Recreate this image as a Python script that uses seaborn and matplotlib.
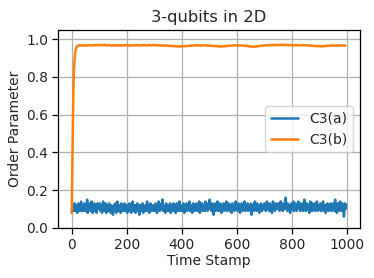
import numpy as np
import pandas as pd
import matplotlib
matplotlib.use("Agg")
import matplotlib.pyplot as plt
import seaborn as sns

title = "3-qubits in 2D"
x_label = "Time Stamp"
y_label = "Order Parameter"
series_names = ["C3(a)", "C3(b)"]
x_ticks = [0, 200, 400, 600, 800, 1000]
y_ticks = [0.0, 0.2, 0.4, 0.6, 0.8, 1.0]

# C3(a): sampled every 2 time stamps (0, 2, ..., 998)
time_a = list(range(0, 1000, 2))
c3a = [
    .08,.11,.09,.12,.10,.13,.09,.11,.10,.12,.08,.11,.13,.10,.09,.12,.10,.14,.09,.11,.12,.09,.10,.13,.11,
    .09,.12,.10,.15,.08,.11,.13,.10,.12,.09,.11,.14,.10,.08,.12,.11,.13,.09,.10,.12,.08,.11,.13,.10,.12,
    .10,.13,.09,.11,.12,.08,.10,.14,.11,.09,.12,.10,.13,.08,.11,.10,.12,.09,.13,.11,.10,.08,.12,.11,.09,
    .07,.11,.12,.09,.13,.10,.08,.11,.14,.10,.09,.12,.10,.11,.08,.13,.10,.12,.09,.11,.10,.13,.09,.11,.12,
    .10,.08,.12,.11,.09,.13,.10,.12,.08,.11,.10,.14,.09,.11,.12,.10,.08,.12,.11,.13,.09,.10,.12,.07,.11,
    .12,.09,.11,.10,.13,.08,.12,.10,.11,.09,.12,.10,.14,.09,.11,.12,.08,.10,.13,.11,.09,.12,.10,.11,.09,
    .12,.10,.13,.09,.11,.08,.12,.10,.14,.11,.09,.12,.10,.13,.11,.15,.09,.12,.10,.11,.08,.12,.13,.10,.11,
    .09,.12,.10,.11,.13,.08,.11,.10,.12,.09,.13,.10,.11,.12,.08,.10,.13,.11,.09,.12,.10,.14,.09,.11,.10,
    .12,.09,.11,.13,.10,.08,.12,.11,.10,.13,.09,.11,.12,.10,.14,.09,.11,.10,.12,.08,.11,.13,.10,.09,.12,
    .11,.10,.13,.09,.12,.10,.11,.14,.08,.12,.10,.11,.13,.09,.10,.12,.11,.09,.14,.10,.12,.11,.09,.13,.10,
    .12,.15,.10,.11,.09,.13,.10,.12,.07,.11,.13,.10,.09,.12,.11,.14,.10,.09,.12,.11,.13,.10,.08,.12,.11,
    .10,.13,.09,.11,.12,.10,.14,.09,.11,.10,.12,.13,.09,.11,.10,.12,.08,.13,.11,.10,.12,.09,.11,.14,.10,
    .11,.12,.09,.13,.10,.11,.08,.12,.10,.13,.11,.09,.12,.10,.14,.11,.09,.12,.10,.11,.13,.09,.10,.12,.11,
    .10,.13,.07,.11,.12,.10,.09,.12,.14,.10,.11,.09,.13,.10,.12,.11,.08,.12,.10,.13,.11,.09,.12,.10,.11,
    .13,.10,.12,.09,.11,.14,.10,.12,.11,.09,.13,.10,.12,.11,.08,.12,.14,.10,.11,.09,.12,.13,.10,.11,.12,
    .10,.13,.11,.09,.12,.14,.10,.11,.13,.09,.12,.10,.11,.14,.16,.10,.12,.09,.13,.11,.10,.12,.08,.11,.13,
    .10,.12,.11,.14,.09,.12,.10,.13,.11,.09,.12,.10,.14,.11,.10,.13,.09,.12,.11,.10,.13,.09,.11,.15,.10,
    .12,.09,.11,.13,.10,.12,.11,.08,.12,.14,.10,.11,.09,.13,.10,.12,.11,.09,.13,.10,.12,.14,.09,.11,.10,
    .12,.10,.13,.09,.11,.12,.10,.14,.09,.11,.12,.10,.08,.12,.11,.13,.10,.09,.12,.11,.10,.13,.09,.11,.12,
    .10,.13,.09,.11,.15,.10,.12,.08,.11,.13,.10,.09,.12,.14,.10,.11,.09,.13,.10,.12,.06,.11,.13,.10,.12,
]

# C3(b): every time stamp 0..24, then every 5 time stamps 25..995
time_b = list(range(0, 25)) + list(range(25, 1000, 5))
c3b = [
    .08,.19,.31,.43,.54,.64,.73,.79,.83,.86,.885,.905,.92,.93,.94,.946,.951,.955,.958,.961,.963,.964,.965,.966,.966,
    .966,.967,.965,.968,.966,.967,.965,.968,.967,.966,
    .968,.966,.969,.967,.968,.970,.967,.969,.968,.970,
    .968,.966,.969,.967,.965,.968,.966,.967,.965,.968,
    .966,.967,.965,.968,.966,.969,.967,.965,.968,.966,
    .967,.968,.966,.969,.967,.965,.968,.967,.969,.966,
    .968,.967,.969,.966,.968,.970,.967,.968,.966,.967,
    .965,.967,.966,.964,.966,.965,.963,.965,.964,.962,
    .963,.961,.962,.960,.962,.961,.963,.962,.964,.963,
    .965,.964,.966,.965,.967,.966,.968,.966,.967,.965,
    .967,.966,.968,.967,.965,.966,.964,.965,.963,.964,
    .962,.963,.961,.960,.962,.961,.963,.962,.964,.965,
    .966,.965,.967,.966,.968,.967,.965,.966,.967,.965,
    .966,.964,.965,.963,.962,.960,.961,.959,.960,.962,
    .961,.963,.964,.966,.965,.967,.966,.968,.967,.969,
    .968,.967,.969,.968,.970,.968,.969,.971,.968,.970,
    .969,.968,.970,.967,.969,.968,.966,.968,.967,.969,
    .967,.968,.966,.969,.967,.968,.966,.967,.965,.966,
    .964,.965,.963,.962,.964,.962,.963,.961,.962,.964,
    .963,.965,.964,.966,.965,.967,.966,.965,.967,.966,
    .965,.967,.966,.965,.966,
]

df_a = pd.DataFrame({"t": time_a, "v": c3a})
df_b = pd.DataFrame({"t": time_b, "v": c3b})

sns.set_style("ticks")
plt.rcParams["font.family"] = ["DejaVu Sans"]

fig, ax = plt.subplots(figsize=(3.74, 2.78), dpi=100)
fig.subplots_adjust(left=0.155, right=0.963, bottom=0.18, top=0.892)

sns.lineplot(data=df_a, x="t", y="v", ax=ax, color="#1f77b4", linewidth=1.8, label=series_names[0])
sns.lineplot(data=df_b, x="t", y="v", ax=ax, color="#ff7f0e", linewidth=1.8, label=series_names[1])

ax.set_xlim(-50, 1049)
ax.set_ylim(0, 1.048)
ax.set_xticks(x_ticks)
ax.set_yticks(y_ticks)
ax.set_yticklabels([f"{v:.1f}" for v in y_ticks])
ax.tick_params(labelsize=10, length=4, width=0.9, color="black", pad=3)
ax.grid(True, color="#b0b0b0", linewidth=0.9)
ax.set_axisbelow(True)
for s in ax.spines.values():
    s.set_color("black")
    s.set_linewidth(0.9)

ax.set_title(title, fontsize=11.8)
ax.set_xlabel(x_label, fontsize=10, labelpad=2)
ax.set_ylabel(y_label, fontsize=10, labelpad=3)
ax.legend(loc="center right", fontsize=10, frameon=True, fancybox=True, framealpha=0.8, edgecolor="#cccccc")

fig.savefig("out.png", dpi=100)
